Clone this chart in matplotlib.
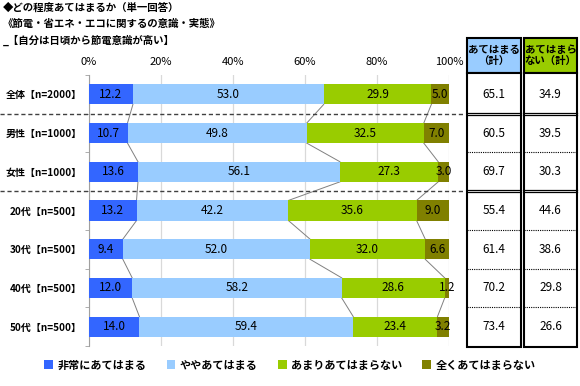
import matplotlib.pyplot as plt
import matplotlib.transforms as mtransforms
import numpy as np

plt.rcParams['font.family'] = ['Noto Sans CJK JP', 'DejaVu Sans']

# データ
categories = ["全体【n=2000】", "男性【n=1000】", "女性【n=1000】",
              "20代【n=500】", "30代【n=500】", "40代【n=500】", "50代【n=500】"]
series_names = ["非常にあてはまる", "ややあてはまる", "あまりあてはまらない", "全くあてはまらない"]
very = [12.2, 10.7, 13.6, 13.2, 9.4, 12.0, 14.0]
somewhat = [53.0, 49.8, 56.1, 42.2, 52.0, 58.2, 59.4]
not_much = [29.9, 32.5, 27.3, 35.6, 32.0, 28.6, 23.4]
not_at_all = [5.0, 7.0, 3.0, 9.0, 6.6, 1.2, 3.2]
agree_total = [65.1, 60.5, 69.7, 55.4, 61.4, 70.2, 73.4]
disagree_total = [34.9, 39.5, 30.3, 44.6, 38.6, 29.8, 26.6]
table_headers = ["あてはまる\n（計）", "あてはまら\nない（計）"]
title_lines = ["◆どの程度あてはまるか（単一回答）",
               "《節電・省エネ・エコに関するの意識・実態》",
               "_【自分は日頃から節電意識が高い】"]
xticks = [0, 20, 40, 60, 80, 100]

colors = ["#3366FF", "#99CCFF", "#99CC00", "#808000"]
header_colors = ["#99CCFF", "#99CC00"]

# レイアウト（ピクセル）
W, H = 580, 386
AX_LEFT, AX_RIGHT, AX_TOP, AX_BOTTOM = 89, 449, 75, 346
COLS = [(467, 521), (524, 577)]
HEADER_TOP = 38
BAR_H = 0.52

fig = plt.figure(figsize=(W / 100, H / 100), dpi=100)
ax = fig.add_axes([AX_LEFT / W, 1 - AX_BOTTOM / H,
                   (AX_RIGHT - AX_LEFT) / W, (AX_BOTTOM - AX_TOP) / H])

data = np.array([very, somewhat, not_much, not_at_all]).T
cum = np.hstack([np.zeros((len(categories), 1)), np.cumsum(data, axis=1)])
y = np.arange(len(categories))

for k in range(data.shape[1]):
    ax.barh(y, data[:, k], left=cum[:, k], height=BAR_H, color=colors[k],
            label=series_names[k], zorder=3)
    for i in range(len(categories)):
        ax.text(cum[i, k] + data[i, k] / 2, y[i], f"{data[i, k]:.1f}",
                ha="center", va="center", fontsize=8.5, color="black", zorder=5)

# 区分線（系列線）
for i in range(len(categories) - 1):
    for k in range(1, data.shape[1]):
        ax.plot([cum[i, k], cum[i + 1, k]],
                [y[i] + BAR_H / 2, y[i + 1] - BAR_H / 2],
                color="#808080", linewidth=0.7, zorder=2)

ax.set_xlim(0, 100)
ax.set_ylim(len(categories) - 0.5, -0.5)
ax.xaxis.tick_top()
ax.set_xticks(xticks)
ax.set_xticklabels([f"{t}%" for t in xticks], fontsize=8)
ax.tick_params(axis="x", length=0, pad=6)
ax.set_yticks(y)
ax.set_yticklabels(categories, fontsize=7.2, fontweight="bold")
ax.tick_params(axis="y", length=0, pad=5)
ax.set_yticks(np.arange(len(categories) + 1) - 0.5, minor=True)
ax.tick_params(axis="y", which="minor", length=3, color="#A0A0A0")
ax.grid(axis="x", color="#D9D9D9", linewidth=0.9, zorder=0)
for side in ["top", "right", "bottom"]:
    ax.spines[side].set_visible(False)
ax.spines["left"].set_color("#A0A0A0")

# 破線の区切り
sep_trans = mtransforms.blended_transform_factory(fig.transFigure, ax.transData)
for ys in [0.5, 2.5]:
    ax.plot([0, 465 / W], [ys, ys], transform=sep_trans, clip_on=False,
            color="#404040", linewidth=1.0, linestyle=(0, (3, 2)), zorder=4)

# タイトル
for j, line in enumerate(title_lines):
    fig.text(3 / W, 1 - (8 + 16 * j) / H, line, fontsize=7.5, fontweight="bold",
             ha="left", va="center")

# 表
tab = fig.add_axes([0, 0, 1, 1], zorder=-1)
tab.set_xlim(0, W)
tab.set_ylim(H, 0)
tab.axis("off")
row_edges = np.linspace(AX_TOP, AX_BOTTOM, len(categories) + 1)
for c, (x0, x1) in enumerate(COLS):
    tab.add_patch(plt.Rectangle((x0, HEADER_TOP), x1 - x0, AX_TOP - 2 - HEADER_TOP,
                                facecolor=header_colors[c], edgecolor="black", linewidth=1.5))
    tab.text((x0 + x1) / 2, (HEADER_TOP + AX_TOP - 2) / 2, table_headers[c],
             ha="center", va="center", fontsize=7.5, fontweight="bold", linespacing=1.2)
    tab.add_patch(plt.Rectangle((x0, AX_TOP - 2), x1 - x0, AX_BOTTOM + 1 - AX_TOP + 2,
                                facecolor="white", edgecolor="black", linewidth=1.5))
    values = agree_total if c == 0 else disagree_total
    for i in range(len(categories)):
        tab.text((x0 + x1) / 2, (row_edges[i] + row_edges[i + 1]) / 2, f"{values[i]:.1f}",
                 ha="center", va="center", fontsize=8.5)
    for i in range(1, len(categories)):
        yb = row_edges[i]
        if i in (1, 3):
            tab.plot([x0, x1], [yb - 1.2, yb - 1.2], color="black", linewidth=0.9)
            tab.plot([x0, x1], [yb + 1.2, yb + 1.2], color="black", linewidth=0.9)
        else:
            tab.plot([x0, x1], [yb, yb], color="black", linewidth=0.8,
                     linestyle=(0, (1, 1)))

# 凡例
fig.legend(loc="center", bbox_to_anchor=(290 / W, 1 - 365 / H), ncol=4,
           frameon=False, handlelength=0.8, handleheight=0.8, handletextpad=0.4,
           columnspacing=1.8, prop={"size": 8, "weight": "bold"})

fig.savefig("out.png", dpi=100)
